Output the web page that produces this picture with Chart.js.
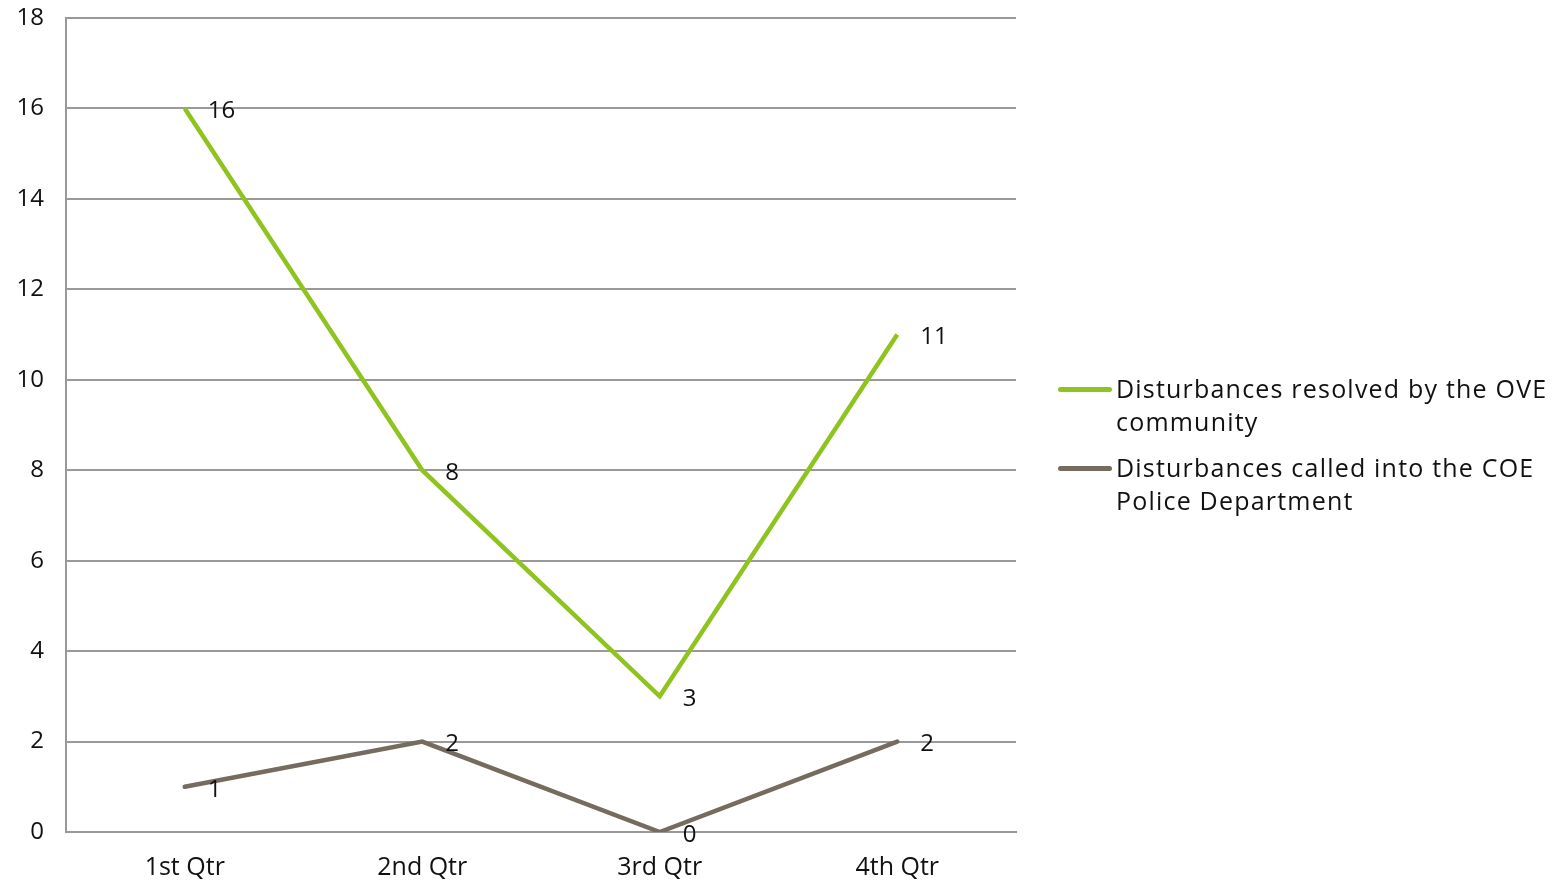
<!DOCTYPE html>
<html>
<head>
<meta charset="utf-8">
<script src="https://cdn.jsdelivr.net/npm/chart.js@4"></script>
<style>
  html, body { margin: 0; padding: 0; background: #fff; }
  #wrap { position: relative; width: 1567px; height: 881px; }
  #legend { position: absolute; left: 1058px; top: 372px; font-family: 'Open Sans', sans-serif; font-size: 25px; letter-spacing: 1.2px; color: #111; line-height: 33px; }
  .item { display: flex; align-items: flex-start; margin-bottom: 13px; }
  .swatch { width: 54px; height: 5px; border-radius: 3px; margin-top: 15px; margin-right: 4px; flex: none; }
</style>
</head>
<body>
<div id="wrap">
  <canvas id="qtrChart" width="1567" height="881"></canvas>
  <div id="legend"></div>
</div>
<script>
const quarters = ['1st Qtr', '2nd Qtr', '3rd Qtr', '4th Qtr'];
const resolvedByCommunity = [16, 8, 3, 11];
const calledIntoPolice = [1, 2, 0, 2];
const seriesNames = [
    ['Disturbances resolved by the OVE', 'community'],
    ['Disturbances called into the COE', 'Police Department']
];
const seriesColors = ['#8fc31f', '#756b5e'];

// value labels to the right of each point
const pointLabels = {
    id: 'pointLabels',
    afterDatasetsDraw(chart) {
        const c = chart.ctx;
        c.save();
        c.font = '24px "Open Sans", sans-serif';
        c.fillStyle = '#111';
        c.textAlign = 'left';
        c.textBaseline = 'middle';
        chart.data.datasets.forEach((ds, i) => {
            chart.getDatasetMeta(i).data.forEach((pt, j) => {
                c.fillText(String(ds.data[j]), pt.x + 23, pt.y + 3);
            });
        });
        c.restore();
    }
};

const ctx = document.getElementById('qtrChart').getContext('2d');
const qtrChart = new Chart(ctx, {
    type: 'line',
    data: {
        labels: quarters,
        datasets: [{
            label: seriesNames[0].join(' '),
            data: resolvedByCommunity,
            borderColor: seriesColors[0],
            backgroundColor: seriesColors[0],
            borderWidth: 4.5,
            pointRadius: 0,
            tension: 0
        }, {
            label: seriesNames[1].join(' '),
            data: calledIntoPolice,
            borderColor: seriesColors[1],
            backgroundColor: seriesColors[1],
            borderWidth: 4.5,
            borderCapStyle: 'round',
            pointRadius: 0,
            tension: 0
        }]
    },
    options: {
        responsive: false,
        animation: false,
        layout: { padding: { top: 18, right: 551, left: 0, bottom: 0 } },
        plugins: {
            legend: { display: false },
            tooltip: { enabled: false }
        },
        scales: {
            x: {
                offset: true,
                grid: { display: false, drawTicks: false },
                border: { color: '#999', width: 2 },
                ticks: { color: '#111', font: { family: 'Open Sans', size: 25 }, padding: 21 },
                afterFit(scale) { scale.height = 49; scale.paddingLeft = 0; scale.paddingRight = 0; }
            },
            y: {
                min: 0,
                max: 18,
                ticks: { stepSize: 2, color: '#111', font: { family: 'Open Sans', size: 24 }, padding: 22 },
                grid: { color: '#999', lineWidth: 2, drawTicks: false },
                border: { color: '#999', width: 2 },
                afterFit(scale) { scale.width = 66; scale.paddingTop = 0; scale.paddingBottom = 0; }
            }
        }
    },
    plugins: [pointLabels]
});

const legend = document.getElementById('legend');
seriesNames.forEach((lines, i) => {
    const item = document.createElement('div');
    item.className = 'item';
    item.innerHTML = '<div class="swatch" style="background:' + seriesColors[i] + '"></div><div>' + lines.join('<br>') + '</div>';
    legend.appendChild(item);
});
</script>
</body>
</html>
